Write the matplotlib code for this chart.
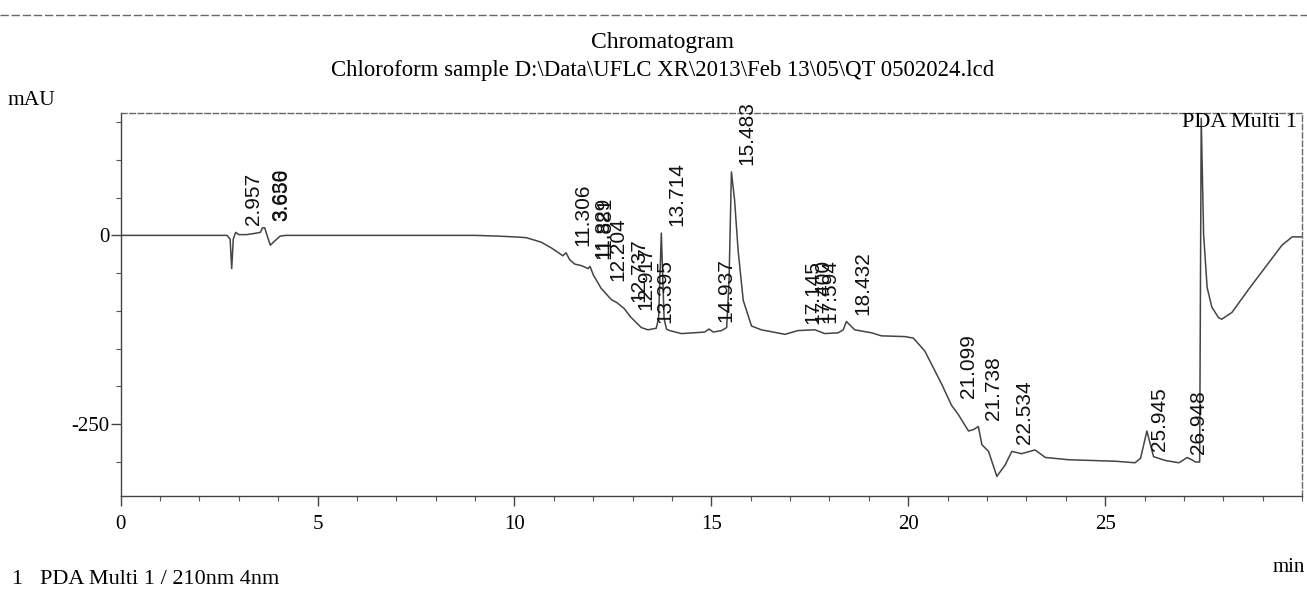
import numpy as np
import matplotlib
matplotlib.use("Agg")
import matplotlib.pyplot as plt
from matplotlib.ticker import MultipleLocator, FixedLocator
from matplotlib.lines import Line2D

# trace (time in min, absorbance in mAU)
time_min = [0.0, 2.70, 2.78, 2.82, 2.86, 2.92, 3.00, 3.20, 3.45, 3.55, 3.60, 3.66, 3.70,
            3.80, 3.90, 4.05, 4.20, 9.00, 9.60, 10.00, 10.30, 10.68, 10.95, 11.23, 11.31,
            11.40, 11.53, 11.70, 11.87, 11.92, 12.00, 12.20, 12.46, 12.60, 12.79, 12.95,
            13.22, 13.39, 13.60, 13.66, 13.73, 13.80, 13.86, 13.94, 14.24, 14.83, 14.94,
            15.05, 15.26, 15.39, 15.45, 15.51, 15.59, 15.68, 15.81, 16.02, 16.27, 16.87,
            17.20, 17.63, 17.88, 18.22, 18.35, 18.43, 18.64, 19.07, 19.32, 19.92, 20.13,
            20.42, 20.85, 21.10, 21.27, 21.53, 21.66, 21.78, 21.87, 22.04, 22.25, 22.46,
            22.63, 22.88, 23.22, 23.48, 24.07, 25.26, 25.76, 25.90, 26.06, 26.23, 26.53,
            26.87, 26.97, 27.08, 27.20, 27.29, 27.40, 27.44, 27.50, 27.59, 27.71, 27.88,
            27.96, 28.22, 28.65, 29.07, 29.49, 29.75, 30.05]
mau = [0, 0, -5, -44, -5, 4, 1, 1, 3, 4, 10, 10, 3,
       -13, -8, -1, 0, 0, -1, -2, -3, -9, -17, -27, -23,
       -32, -38, -40, -44, -41, -52, -70, -85, -89, -97, -108,
       -122, -125, -123, -110, 3, -110, -124, -126, -130, -128, -124,
       -128, -126, -122, -60, 84, 47, -20, -86, -120, -125, -131,
       -126, -125, -130, -129, -125, -114, -125, -129, -133, -134, -136,
       -153, -197, -225, -237, -259, -257, -253, -277, -286, -319, -304,
       -286, -289, -284, -294, -297, -299, -301, -295, -259, -293, -298,
       -301, -298, -294, -297, -300, -300, 155, 2, -69, -95, -109,
       -111, -102, -71, -42, -13, -2, -2]

peak_times = [2.957, 3.630, 3.656, 11.306, 11.829, 11.881, 12.204, 12.737, 12.917,
              13.395, 13.714, 14.937, 15.483, 17.145, 17.400, 17.594, 18.432,
              21.099, 21.738, 22.534, 25.945, 26.948]

title = "Chromatogram"
subtitle = "Chloroform sample D:\\Data\\UFLC XR\\2013\\Feb 13\\05\\QT 0502024.lcd"

plt.rcParams["axes.unicode_minus"] = False
serif = "Liberation Serif"
sans = "Liberation Sans"
trace_col = "#444444"

fig = plt.figure(figsize=(13.07, 5.96), dpi=100)
ax = fig.add_axes([0.0923, 0.1678, 0.9039, 0.6426])

t = np.array(time_min)
y = np.array(mau)
ax.plot(t, y, color=trace_col, lw=1.1)

# retention time labels, placed just above the local apex
for pt in peak_times:
    win = (t >= pt - 0.1) & (t <= pt + 0.1)
    top = y[win].max() if win.any() else np.interp(pt, t, y)
    ax.annotate(f"{pt:.3f}", xy=(pt, top), xytext=(12, 5), textcoords="offset points",
                rotation=90, ha="center", va="bottom", fontsize=15,
                family=sans, color="#111111")

ax.text(26.95, 150, "PDA Multi 1", family=serif, fontsize=16, ha="left", va="center",
        clip_on=False)

ax.set_xlim(0, 30)
ax.set_ylim(-345, 162)
ax.xaxis.set_major_locator(FixedLocator([0, 5, 10, 15, 20, 25]))
ax.xaxis.set_minor_locator(MultipleLocator(1))
ax.yaxis.set_major_locator(FixedLocator([0, -250]))
ax.yaxis.set_minor_locator(MultipleLocator(50))
ax.tick_params(axis="both", which="major", direction="out", length=7, width=1,
               color="#444444", labelsize=15)
ax.tick_params(axis="both", which="minor", direction="out", length=3.5, width=0.8,
               color="#555555")
ax.tick_params(axis="x", which="major", pad=7)
ax.tick_params(axis="y", which="major", pad=1)
for lab in ax.get_xticklabels() + ax.get_yticklabels():
    lab.set_family(serif)

for side in ["left", "bottom"]:
    ax.spines[side].set_color("#444444")
    ax.spines[side].set_linewidth(1.0)
for side in ["top", "right"]:
    ax.spines[side].set_color("#666666")
    ax.spines[side].set_linewidth(1.0)
    ax.spines[side].set_linestyle((0, (4, 2)))

fig.text(0.507, 0.929, title, family=serif, fontsize=17, ha="center", va="center")
fig.text(0.507, 0.882, subtitle, family=serif, fontsize=16.4, ha="center", va="center")
fig.text(0.006, 0.832, "mAU", family=serif, fontsize=15.5, ha="left", va="center")
fig.text(0.9985, 0.048, "min", family=serif, fontsize=15, ha="right", va="center")
fig.text(0.009, 0.027, "1   PDA Multi 1 / 210nm 4nm", family=serif, fontsize=16,
         ha="left", va="center")

# page rule at the top of the scan
fig.add_artist(Line2D([0.0, 1.0], [0.975, 0.975], transform=fig.transFigure,
                      color="#666666", lw=1.0, ls=(0, (6, 2))))

fig.savefig("out.png", dpi=100)
